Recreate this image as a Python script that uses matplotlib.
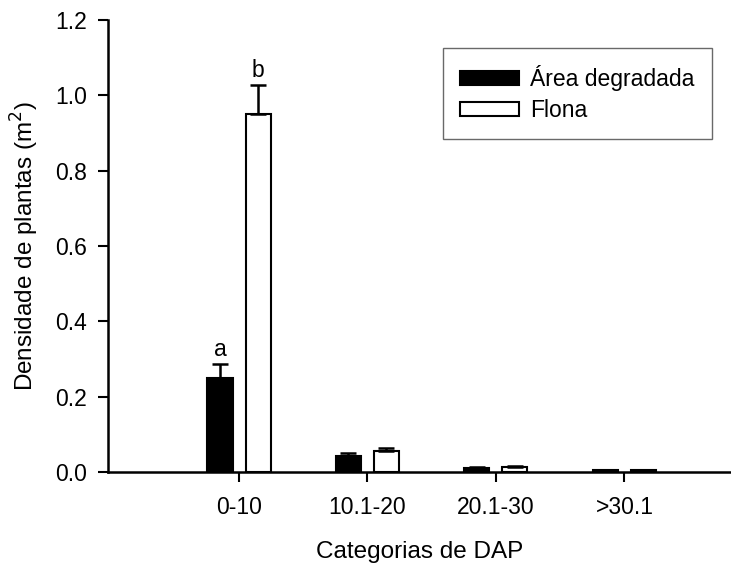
import matplotlib
matplotlib.use("Agg")
import matplotlib.pyplot as plt
import numpy as np

plt.rcParams['font.family'] = ['Liberation Sans', 'DejaVu Sans']

categories = ["0-10", "10.1-20", "20.1-30", ">30.1"]
degradada = [0.25, 0.042, 0.010, 0.004]
degradada_err = [0.038, 0.008, 0.002, 0.001]
flona = [0.95, 0.057, 0.013, 0.005]
flona_err = [0.078, 0.007, 0.003, 0.001]
letters_deg = ["a", "", "", ""]
letters_flo = ["b", "", "", ""]

TICK_FS = 16.5
LAB_FS = 17.5

fig = plt.figure(figsize=(7.31, 5.65), dpi=100)
ax = fig.add_axes([108/731, 1 - 472/565, 1 - 108/731, (472 - 20)/565])

x = np.arange(len(categories))
w = 0.195
off = 0.148
ekw = dict(ecolor='black', elinewidth=1.8, capsize=5.5, capthick=1.8)
ax.bar(x - off, degradada, w, color='black', edgecolor='black', linewidth=1.5,
       yerr=[np.zeros(4), degradada_err], error_kw=ekw,
       label='Área degradada', zorder=3)
ax.bar(x + off, flona, w, color='white', edgecolor='black', linewidth=1.5,
       yerr=[np.zeros(4), flona_err], error_kw=ekw,
       label='Flona', zorder=3)

for i in range(4):
    if letters_deg[i]:
        ax.text(x[i] - off, degradada[i] + degradada_err[i] + 0.008, letters_deg[i],
                ha='center', va='bottom', fontsize=TICK_FS)
    if letters_flo[i]:
        ax.text(x[i] + off, flona[i] + flona_err[i] + 0.008, letters_flo[i],
                ha='center', va='bottom', fontsize=TICK_FS)

ax.set_xlim(-1.02, 3.83)
ax.set_ylim(0, 1.2)
yt = np.arange(0, 1.21, 0.2)
ax.set_yticks(yt)
ax.set_yticklabels([f"{v:.1f}" for v in yt])
ax.set_xticks(x)
ax.set_xticklabels(categories)
ax.tick_params(axis='both', direction='out', length=7, width=1.5, labelsize=TICK_FS)
ax.tick_params(axis='x', pad=10)
ax.tick_params(axis='y', pad=8)
for s in ['top', 'right']:
    ax.spines[s].set_visible(False)
for s in ['left', 'bottom']:
    ax.spines[s].set_linewidth(1.8)

ax.set_xlabel('Categorias de DAP', fontsize=LAB_FS, labelpad=16)
ax.set_ylabel('Densidade de plantas (m$^2$)', fontsize=LAB_FS, labelpad=10)

leg = ax.legend(loc='upper left', fontsize=TICK_FS, frameon=True, fancybox=False,
                edgecolor='#444444', handlelength=2.55, handleheight=0.6,
                borderpad=0.75, labelspacing=0.35, handletextpad=0.5, borderaxespad=0)
leg.get_frame().set_linewidth(1.0)
leg.set_bbox_to_anchor((443/731, 1 - 48/565), transform=fig.transFigure)

fig.savefig('out.png', dpi=100)
